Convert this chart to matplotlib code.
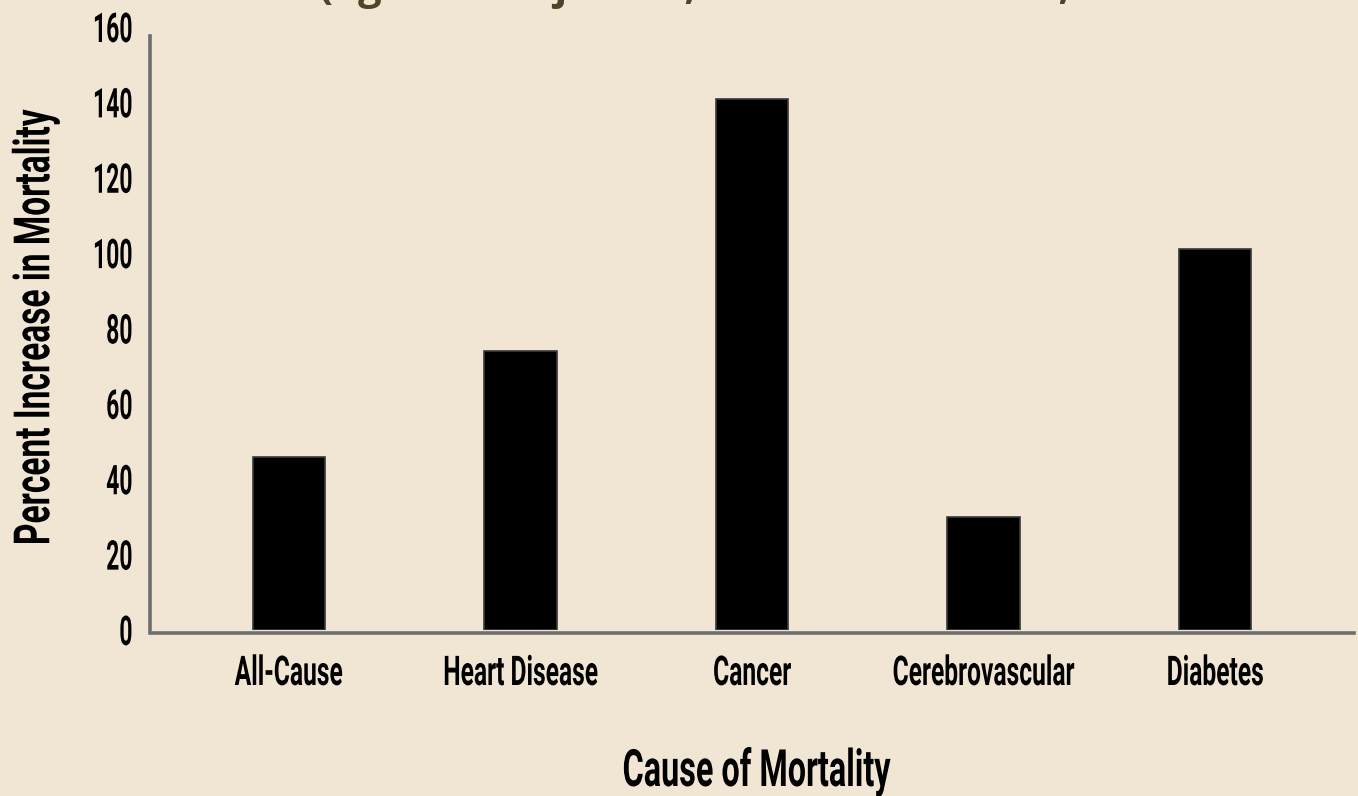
import matplotlib
matplotlib.use("Agg")
import matplotlib.pyplot as plt
from matplotlib import font_manager as fm
from matplotlib import patheffects as pe
from matplotlib.transforms import Affine2D

categories = ["All-Cause", "Heart Disease", "Cancer", "Cerebrovascular", "Diabetes"]
values = [46, 74, 141, 30, 101]
yticks = [0, 20, 40, 60, 80, 100, 120, 140, 160]
xlabel = "Cause of Mortality"
ylabel = "Percent Increase in Mortality"
title = "(age/sex adjusted, obese vs. normal, NHANES 1971\u20132006 US adult cohorts)"


def pick(cands):
    for c in cands:
        try:
            fm.findfont(fm.FontProperties(family=c), fallback_to_default=False)
            return c
        except Exception:
            pass
    return "DejaVu Sans"


cond = pick(["Liberation Sans Narrow", "DejaVu Sans Condensed", "Roboto", "Liberation Sans"])
titlef = pick(["Open Sans", "Lato", "DejaVu Sans"])


class Narrow(pe.AbstractPathEffect):
    """Compress glyphs horizontally (in the text's own frame) about an anchor."""

    def __init__(self, sx, align="center"):
        super().__init__()
        self.sx = sx
        self.align = align

    def draw_path(self, renderer, gc, tpath, affine, rgbFace=None):
        ext = tpath.get_extents()
        if self.align == "left":
            a = ext.x0
        elif self.align == "right":
            a = ext.x1
        else:
            a = 0.5 * (ext.x0 + ext.x1)
        t = Affine2D().translate(-a, 0).scale(self.sx, 1).translate(a, 0) + affine
        renderer.draw_path(gc, tpath, t, rgbFace)


bg = "#f1e6d3"
W, H = 1358, 796
fig = plt.figure(figsize=(W / 100, H / 100), dpi=100, facecolor=bg)
ax = fig.add_axes([150 / W, 1 - 630 / H, (1354 - 150) / W, (630 - 27) / H])
ax.set_facecolor(bg)
for s in ["top", "right"]:
    ax.spines[s].set_visible(False)
for s in ["left", "bottom"]:
    ax.spines[s].set_color("#6e6e6e")
    ax.spines[s].set_linewidth(2.6)
ax.spines["bottom"].set_position(("outward", 2.5))

x = list(range(len(categories)))
ax.bar(x, values, width=0.312, color="black", edgecolor="#3a3a3a", linewidth=1.2)
ax.set_xlim(-0.6, 4.6)
ax.set_ylim(0, 160)
ax.spines["left"].set_bounds(0, 157.5)
ax.tick_params(length=0)
ax.tick_params(axis="x", pad=15.5)
ax.tick_params(axis="y", pad=12)
ax.set_yticks(yticks)
ax.set_xticks(x)
ax.set_xticklabels(categories, fontsize=29.5, fontweight="bold", family=cond)
ax.set_yticklabels([str(t) for t in yticks], fontsize=29.5, fontweight="bold", family=cond)
for lab in ax.get_xticklabels():
    lab.set_path_effects([Narrow(0.6, "center")])
for lab in ax.get_yticklabels():
    lab.set_path_effects([Narrow(0.56, "right")])

fig.text(756 / W, 1 - 786 / H, xlabel, fontsize=37, fontweight="bold", family=cond,
         ha="center", va="baseline", path_effects=[Narrow(0.63, "center")])
fig.text(36 / W, 1 - 328 / H, ylabel, fontsize=36, fontweight="bold", family=cond,
         rotation=90, ha="center", va="center", path_effects=[Narrow(0.67, "center")])
fig.text(319 / W, 1.0 + 0.8 / H, title, fontsize=30, fontweight="bold",
         family=titlef, color="#4b4628", ha="left", va="baseline")
fig.savefig("out.png", dpi=100, facecolor=bg)
